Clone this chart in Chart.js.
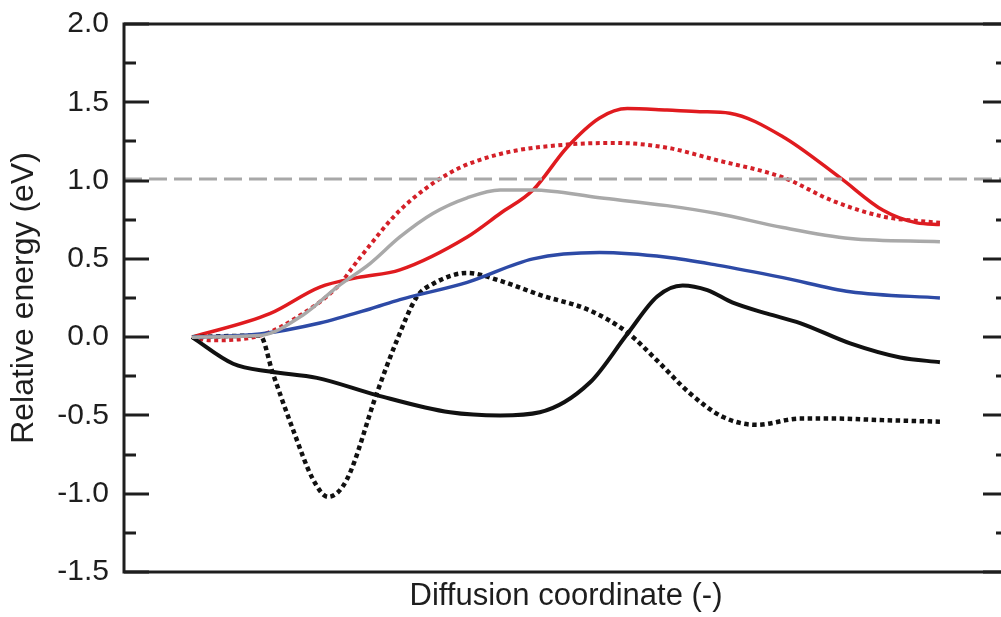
<!DOCTYPE html>
<html><head><meta charset="utf-8">
<script src="https://cdn.jsdelivr.net/npm/chart.js@4.4.1/dist/chart.umd.min.js"></script>
<style>html,body{margin:0;padding:0;overflow:hidden;background:#fff}canvas{display:block}</style>
</head><body>
<canvas id="c" width="1009" height="617" style="width:1009px;height:617px"></canvas>
<script>
// x = diffusion coordinate (0 = start, 100 = end), y = relative energy (eV)
const xAxisMin = -9.09, xAxisMax = 109.1;
const yAxisMin = -1.5, yAxisMax = 2.0, yStep = 0.5;
const refLevel = 1.01;

const redSolidX = [0,10.4,17.1,22.1,27.8,36.8,41.2,45.6,50.1,54.5,58.2,63.5,67.9,71.9,79.0,86.6,92.4,96.9,100];
const redSolidY = [0,0.15,0.32,0.38,0.43,0.64,0.79,0.94,1.21,1.40,1.46,1.45,1.44,1.43,1.28,1.02,0.81,0.73,0.72];

const redDotX = [0,2.4,9.1,14.8,19.4,22.5,27.8,34.5,41.2,50.1,56.8,63.5,70.2,79.0,85.7,92.4,100];
const redDotY = [0,-0.02,0.01,0.15,0.32,0.51,0.81,1.05,1.17,1.23,1.24,1.21,1.13,1.02,0.87,0.77,0.73];

const grayX = [0,9.1,14.8,19.4,23.8,27.8,32.2,36.8,41.2,45.6,54.5,63.5,70.2,79.0,88.0,100];
const grayY = [0,0.01,0.14,0.32,0.47,0.64,0.79,0.89,0.94,0.94,0.89,0.84,0.79,0.70,0.63,0.61];

const blueX = [0,9.1,17.1,23.8,27.8,36.8,45.6,54.5,63.5,70.2,79.0,88.0,100];
const blueY = [0,0.02,0.09,0.18,0.24,0.35,0.50,0.54,0.51,0.46,0.38,0.29,0.25];

const blackSolidX = [0,5.5,10.4,16.7,24.7,34.5,41.2,46.5,53.2,58.2,62.2,65.6,68.9,72.3,76.9,81.3,88.0,94.7,100];
const blackSolidY = [0,-0.17,-0.22,-0.26,-0.37,-0.48,-0.50,-0.48,-0.29,0.02,0.26,0.33,0.30,0.22,0.15,0.09,-0.04,-0.13,-0.16];

const blackDotX = [0,9.1,10.8,13.5,16.2,18.2,20.7,24.7,27.4,30.1,32.2,36.8,41.2,46.5,53.2,58.2,62.2,66.6,71.0,75.5,81.3,85.7,92.4,100];
const blackDotY = [0,0.01,-0.23,-0.59,-0.91,-1.02,-0.91,-0.36,-0.02,0.26,0.34,0.41,0.36,0.27,0.17,0.03,-0.15,-0.36,-0.51,-0.56,-0.52,-0.52,-0.53,-0.54];

const xTitle = 'Diffusion coordinate (-)';
const yTitle = 'Relative energy (eV)';

const pts = (xs, ys) => xs.map((x, i) => ({x, y: ys[i]}));
const FONT = '"Liberation Sans", Arial, sans-serif';
const AX = '#1e1e1e';

const line = (data, color, width, dash, extra) => Object.assign({
  data, borderColor: color, borderWidth: width, borderDash: dash || [],
  pointRadius: 0, fill: false, cubicInterpolationMode: 'monotone', borderCapStyle: 'butt'
}, extra || {});

const framePlugin = {
  id: 'frame',
  afterDatasetsDraw(chart) {
    const {ctx, chartArea: a, scales: {y}} = chart;
    ctx.save();
    ctx.strokeStyle = AX;
    ctx.lineWidth = 3;
    ctx.beginPath();
    ctx.moveTo(a.left, a.top); ctx.lineTo(a.right, a.top);
    ctx.moveTo(a.left, a.bottom); ctx.lineTo(a.right, a.bottom);
    ctx.moveTo(a.left, a.top - 1.5); ctx.lineTo(a.left, a.bottom + 1.5);
    ctx.moveTo(a.right, a.top); ctx.lineTo(a.right, a.bottom);
    ctx.stroke();
    ctx.lineWidth = 3;
    ctx.beginPath();
    for (let v = yAxisMin; v <= yAxisMax + 1e-9; v += yStep / 2) {
      const major = Math.abs(v / yStep - Math.round(v / yStep)) < 1e-6;
      const py = Math.round(y.getPixelForValue(v));
      const len = major ? 25 : 12;
      ctx.moveTo(a.left, py); ctx.lineTo(a.left + len, py);
      ctx.moveTo(a.right, py); ctx.lineTo(a.right - len, py);
    }
    ctx.stroke();
    ctx.restore();
  }
};

new Chart(document.getElementById('c'), {
  type: 'line',
  data: {
    datasets: [
      line(pts([xAxisMin, xAxisMax], [refLevel, refLevel]), '#a8a8a8', 3, [18, 7], {cubicInterpolationMode: 'default', tension: 0}),
      line(pts(grayX, grayY), '#a9a9a9', 3.5),
      line(pts(blueX, blueY), '#2d4aa6', 3.5),
      line(pts(blackSolidX, blackSolidY), '#111111', 4),
      line(pts(blackDotX, blackDotY), '#111111', 4.5, [4.5, 3.5]),
      line(pts(redDotX, redDotY), '#d42028', 4, [4, 3.5]),
      line(pts(redSolidX, redSolidY), '#e01b1f', 3.5)
    ]
  },
  options: {
    responsive: false,
    animation: false,
    devicePixelRatio: 1,
    layout: {padding: {top: 24, right: 1, bottom: 0, left: 0}},
    plugins: {legend: {display: false}, tooltip: {enabled: false}},
    scales: {
      x: {
        type: 'linear', min: xAxisMin, max: xAxisMax,
        grid: {display: false, drawTicks: false},
        border: {display: false},
        ticks: {display: false},
        title: {display: true, text: xTitle, color: AX, font: {family: FONT, size: 31}, padding: {top: 0, bottom: 2}},
        afterFit: s => { s.height = 45; s.paddingLeft = 0; s.paddingRight = 0; }
      },
      y: {
        type: 'linear', min: yAxisMin, max: yAxisMax,
        grid: {display: false, drawTicks: false},
        border: {display: false},
        ticks: {stepSize: yStep, padding: 15, color: AX, font: {family: FONT, size: 30},
                callback: v => v.toFixed(1)},
        title: {display: true, text: yTitle, color: AX, font: {family: FONT, size: 32}, padding: {top: 5, bottom: 0}},
        afterFit: s => { s.width = 124; s.paddingTop = 0; s.paddingBottom = 0; }
      }
    }
  },
  plugins: [framePlugin]
});
</script>
</body></html>
